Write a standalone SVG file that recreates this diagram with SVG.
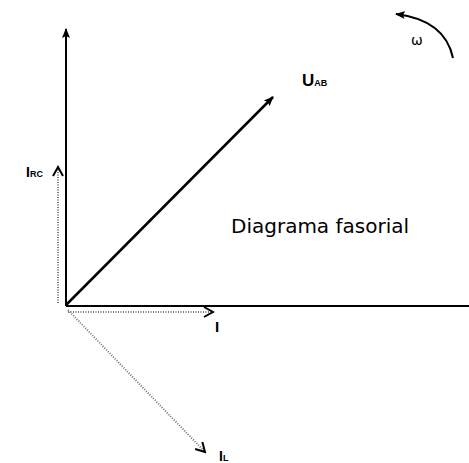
<svg xmlns="http://www.w3.org/2000/svg" width="469" height="463" viewBox="0 0 469 463">
<defs>
<marker id="solid" viewBox="0 0 10 10" refX="9" refY="5" markerWidth="10" markerHeight="10" markerUnits="userSpaceOnUse" orient="auto"><path d="M0,1 L10,5 L0,9 L2,5 Z" fill="#000"/></marker>
<marker id="open" viewBox="0 0 12 12" refX="10" refY="6" markerWidth="12" markerHeight="12" markerUnits="userSpaceOnUse" orient="auto"><path d="M1,1 L10,6 L1,11" fill="none" stroke="#000" stroke-width="2"/></marker>
</defs>
<style>
.axis{stroke:#000;stroke-width:2;fill:none}
.vec{stroke:#000;stroke-width:2.5;fill:none}
.dot{stroke:#777;stroke-width:2;stroke-dasharray:1 1.5;fill:none}
.lbl{font-family:"Liberation Sans",Arial,sans-serif;font-weight:bold;fill:#000}
.sub{font-size:9px}
</style>
<rect width="469" height="463" fill="#fff"/>
<g id="connectors">
<line class="axis" x1="66" y1="306" x2="66" y2="29" marker-end="url(#solid)"/>
<line class="axis" x1="66" y1="306" x2="469" y2="306"/>
<line class="vec" x1="66" y1="305" x2="273" y2="97" marker-end="url(#solid)"/>
<line class="dot" x1="58" y1="303" x2="58" y2="167" marker-end="url(#open)"/>
<line class="dot" x1="68" y1="312" x2="213" y2="312" marker-end="url(#open)"/>
<line class="dot" x1="68" y1="310" x2="205" y2="452" marker-end="url(#open)"/>
<path class="axis" d="M453,58 Q445,20 396,14" marker-end="url(#solid)"/>
</g>
<g id="label-UAB"><text class="lbl" x="302" y="86" font-size="17">U<tspan class="sub">AB</tspan></text></g>
<g id="label-IRC"><text class="lbl" x="43" y="177" font-size="14" text-anchor="end">I<tspan class="sub">RC</tspan></text></g>
<g id="label-I"><text class="lbl" x="215" y="332" font-size="15">I</text></g>
<g id="label-IL"><text class="lbl" x="219" y="461" font-size="14">I<tspan class="sub">L</tspan></text></g>
<g id="label-omega"><text x="411" y="45" font-family="'DejaVu Sans',Verdana,sans-serif" font-size="14" fill="#000">ω</text></g>
<g id="title"><text x="231" y="233" font-family="'DejaVu Sans',Verdana,sans-serif" font-size="20" fill="#000">Diagrama fasorial</text></g>
</svg>
